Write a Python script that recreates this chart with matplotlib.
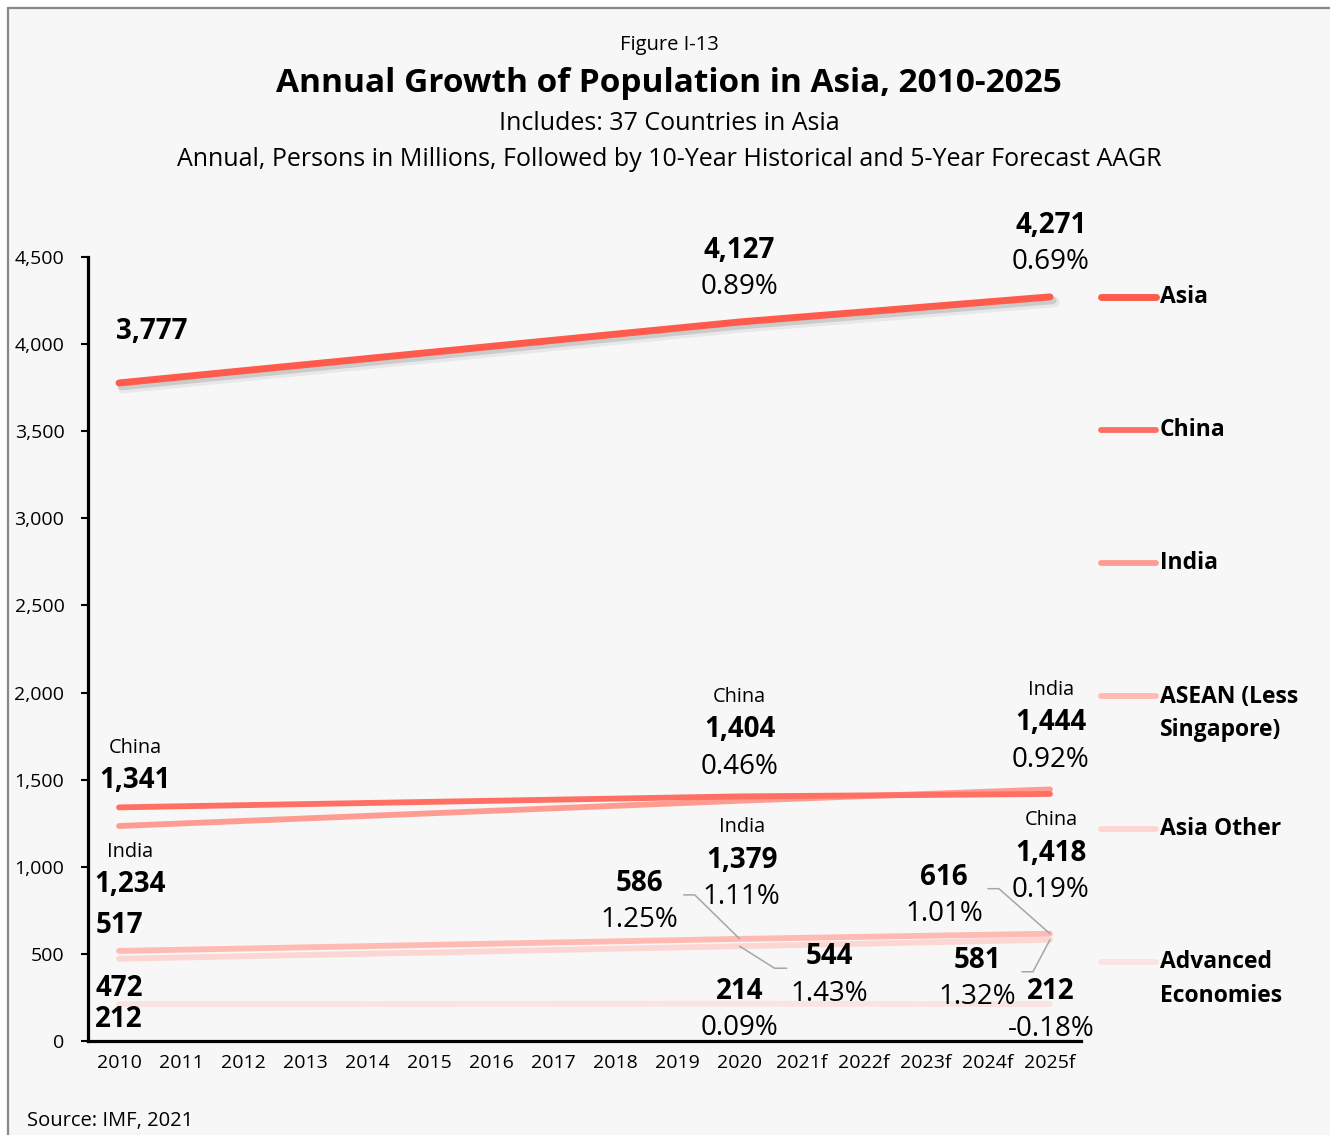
import matplotlib
matplotlib.use("Agg")
import matplotlib.pyplot as plt
import matplotlib.patheffects as pe
from matplotlib.lines import Line2D
from matplotlib.patches import Rectangle

plt.rcParams['font.family'] = ['Open Sans', 'DejaVu Sans']

# categories on the x axis
years = ['2010', '2011', '2012', '2013', '2014', '2015', '2016', '2017', '2018',
         '2019', '2020', '2021f', '2022f', '2023f', '2024f', '2025f']
# years that carry values
point_years = ['2010', '2020', '2025f']

series_names = ['Asia', 'China', 'India', 'ASEAN (Less\nSingapore)', 'Asia Other',
                'Advanced\nEconomies']
asia = [3777, 4127, 4271]
china = [1341, 1404, 1418]
india = [1234, 1379, 1444]
asean = [517, 586, 616]
asia_other = [472, 544, 581]
advanced = [212, 214, 212]

# 10-year historical AAGR (at 2020) and 5-year forecast AAGR (at 2025f)
asia_aagr = [0.89, 0.69]
china_aagr = [0.46, 0.19]
india_aagr = [1.11, 0.92]
asean_aagr = [1.25, 1.01]
asia_other_aagr = [1.43, 1.32]
advanced_aagr = [0.09, -0.18]

colors = ['#FF5B4C', '#FF6F63', '#FF9C92', '#FFBAB3', '#FCD6D2', '#F9E4E2']

W, H = 1330, 1135
fig = plt.figure(figsize=(W / 100, H / 100), dpi=100, facecolor='white')
fig.add_artist(Rectangle((8 / W, -0.1), 1.2, 1.1 - 8 / H, transform=fig.transFigure,
                         facecolor='#F7F7F7', edgecolor='#888888', lw=1.6, zorder=-5))

ax = fig.add_axes([88 / W, 1 - 1041 / H, (1081 - 88) / W, (1041 - 257) / H])
ax.set_facecolor('none')

xs = [years.index(y) for y in point_years]
all_values = [asia, china, india, asean, asia_other, advanced]

# soft drop shadow under the Asia line
shadow = [pe.SimpleLineShadow(offset=(3, -3.5), shadow_color='k', alpha=0.06, linewidth=8),
          pe.SimpleLineShadow(offset=(2, -2.5), shadow_color='k', alpha=0.12, linewidth=5.5),
          pe.Normal()]

for k in [5, 4, 3, 2, 1, 0]:
    lw = 5 if k == 0 else 4.2
    ax.plot(xs, all_values[k], color=colors[k], lw=lw, solid_capstyle='round',
            path_effects=shadow if k == 0 else None, zorder=3 + (5 - k))

ax.set_xlim(-0.5, len(years) - 0.5)
ax.set_ylim(0, 4500)
ax.set_xticks(range(len(years)))
ax.set_xticklabels(years)
ax.set_yticks(range(0, 4501, 500))
ax.set_yticklabels([f'{v:,}' for v in range(0, 4501, 500)])
ax.tick_params(axis='x', length=0, pad=9, labelsize=14)
ax.tick_params(axis='y', length=5, width=1.5, pad=12, labelsize=14)
for s in ['top', 'right']:
    ax.spines[s].set_visible(False)
for s in ['left', 'bottom']:
    ax.spines[s].set_linewidth(2.3)


def put(x, v, dx, dy, text, **kw):
    ax.annotate(text, xy=(x, v), xytext=(dx, dy), textcoords='offset pixels',
                ha='center', va='center_baseline', zorder=20, **kw)


def label(x, v, dx, dy, pct=None, name=None):
    put(x, v, dx, dy, f'{v:,}', fontsize=20, fontweight='bold')
    if pct is not None:
        put(x, v, dx, dy - 37, f'{pct:.2f}%', fontsize=20)
    if name is not None:
        put(x, v, dx, dy + 32, name, fontsize=14.3)


def leader(x, v, dx, dy, angle):
    ax.annotate('', xy=(x, v), xytext=(dx, dy), textcoords='offset pixels',
                arrowprops=dict(arrowstyle='-', color='#A6A6A6', lw=1.1, shrinkA=0, shrinkB=0,
                                connectionstyle=f'angle,angleA=0,angleB={angle},rad=0'),
                zorder=15)


x0, x1, x2 = xs
# Asia
label(x0, asia[0], 33, 55)
label(x1, asia[1], 0, 75, asia_aagr[0])
label(x2, asia[2], 1, 75, asia_aagr[1])
# China
label(x0, china[0], 16, 30, name='China')
label(x1, china[1], 0, 70, china_aagr[0], name='China')
label(x2, china[2], 1, -56, china_aagr[1], name='China')
# India
label(x0, india[0], 11, -55, name='India')
label(x1, india[1], 2, -56, india_aagr[0], name='India')
label(x2, india[2], 1, 70, india_aagr[1], name='India')
# ASEAN
label(x0, asean[0], 0, 29)
label(x1, asean[1], -100, 59, asean_aagr[0])
leader(x1, asean[1], -56, 44, 135.6)
label(x2, asean[2], -106, 60, asean_aagr[1])
leader(x2, asean[2], -62, 45, 138.6)
# Asia Other
label(x0, asia_other[0], 0, -26)
label(x1, asia_other[1], 90, -7, asia_other_aagr[0])
leader(x1, asia_other[1], 47, -22, -32.2)
label(x2, asia_other[2], -73, -17, asia_other_aagr[1])
leader(x2, asia_other[2], -28, -32, 62)
# Advanced Economies
label(x0, advanced[0], 0, -12)
label(x1, advanced[1], 0, 16, advanced_aagr[0])
label(x2, advanced[2], 1, 16, advanced_aagr[1])

# legend at the right
for i, (name, c) in enumerate(zip(series_names, colors)):
    y = 1 - (297 + 133 * i) / H
    lw = 5 if i == 0 else 4.2
    fig.add_artist(Line2D([1101 / W, 1156 / W], [y, y], transform=fig.transFigure,
                          color=c, lw=lw, solid_capstyle='round'))
    lines = name.count('\n') + 1
    fig.text(1160 / W, y - (lines - 1) * 17 / H, name, ha='left', va='center',
             fontsize=16.5, fontweight='bold', linespacing=1.5)

fig.text(669 / W, 1 - 45 / H, 'Figure I-13', ha='center', va='center', fontsize=14.5)
fig.text(669 / W, 1 - 83 / H, 'Annual Growth of Population in Asia, 2010-2025',
         ha='center', va='center', fontsize=24, fontweight='bold')
fig.text(669 / W, 1 - 123 / H, 'Includes: 37 Countries in Asia',
         ha='center', va='center', fontsize=18)
fig.text(669 / W, 1 - 159 / H,
         'Annual, Persons in Millions, Followed by 10-Year Historical and 5-Year Forecast AAGR',
         ha='center', va='center', fontsize=18)
fig.text(27 / W, 1 - 1121 / H, 'Source: IMF, 2021', ha='left', va='center', fontsize=14.5)

fig.savefig('out.png', dpi=100, facecolor=fig.get_facecolor())
